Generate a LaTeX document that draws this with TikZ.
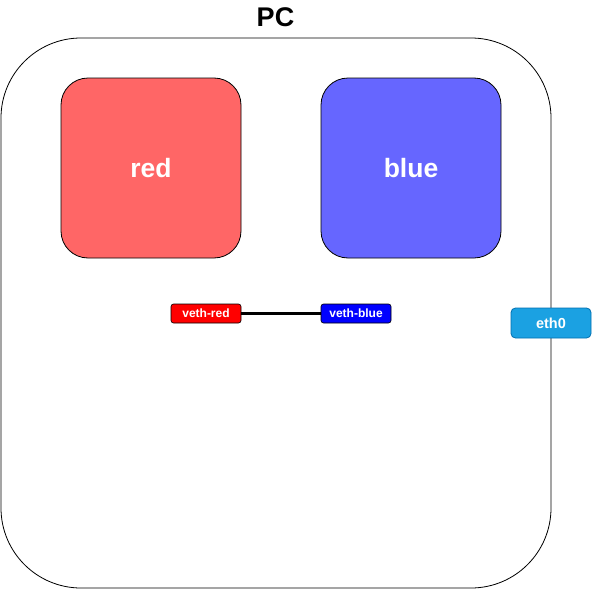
\documentclass[tikz,border=0pt]{standalone}
\usepackage{fontspec}
\setmainfont{Liberation Sans}
\definecolor{lred}{HTML}{FF6666}
\definecolor{lblue}{HTML}{6666FF}
\definecolor{ethfill}{HTML}{1BA1E2}
\definecolor{ethdraw}{HTML}{006EAF}
\begin{document}
\begin{tikzpicture}[x=1pt,y=-1pt,
  ns/.style={draw=black,line width=0.8pt,rounded corners=27pt,minimum width=180pt,minimum height=180pt,inner sep=0pt,text=white,font=\bfseries\fontsize{26.5}{30}\selectfont},
  port/.style={draw=black,line width=0.6pt,rounded corners=2.5pt,minimum width=70pt,minimum height=19pt,inner sep=0pt,text=white,font=\bfseries\fontsize{12}{14}\selectfont}]
\useasboundingbox (0,0) rectangle (592,589);
\node[draw=black,line width=0.8pt,rounded corners=80pt,minimum width=550pt,minimum height=550pt,inner sep=0pt] (pc) at (276,313) {};
\node[font=\bfseries\fontsize{27}{30}\selectfont,inner sep=0pt] (pcl) at (275.5,17) {PC};
\node[ns,fill=lred] (red) at (151,168) {red};
\node[ns,fill=lblue] (blue) at (411,168) {blue};
\node[port,fill=red] (vr) at (206,313.5) {veth-red};
\node[port,fill=blue] (vb) at (356,313.5) {veth-blue};
\draw[line width=3pt] (vr) -- (vb);
\node[draw=ethdraw,fill=ethfill,line width=0.8pt,rounded corners=4.5pt,minimum width=80pt,minimum height=30pt,inner sep=0pt,text=white,font=\bfseries\fontsize{14.5}{17}\selectfont] (eth) at (551,323) {eth0};
\end{tikzpicture}
\end{document}
